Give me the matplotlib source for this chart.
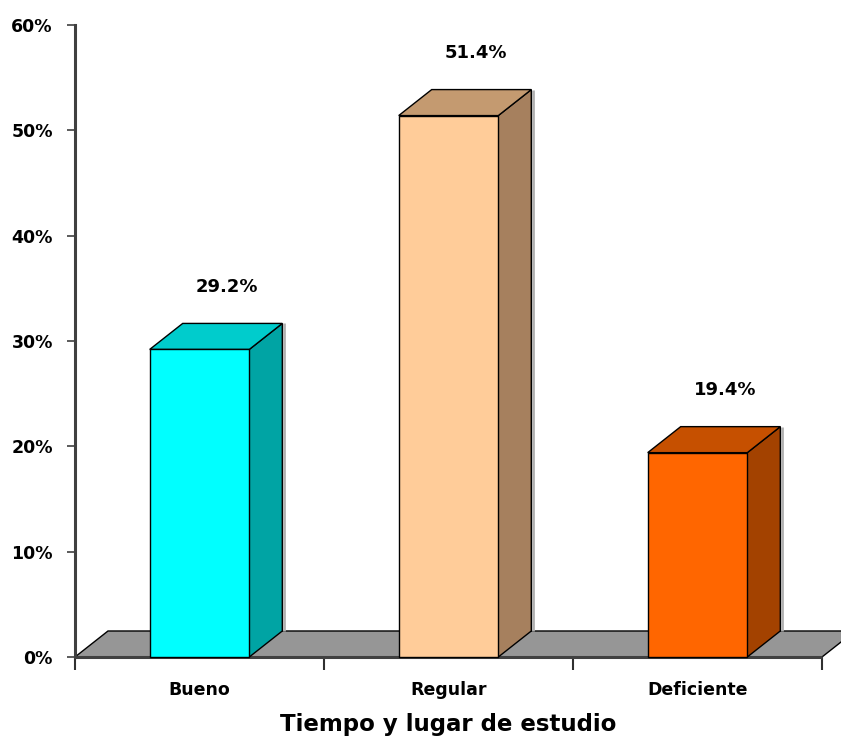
import matplotlib
matplotlib.use("Agg")
import matplotlib.pyplot as plt
from matplotlib.patches import Polygon

categories = ["Bueno", "Regular", "Deficiente"]
values = [29.2, 51.4, 19.4]
value_labels = ["29.2%", "51.4%", "19.4%"]
front_colors = ["#00FFFF", "#FFCC99", "#FF6600"]
top_colors = ["#00CCCC", "#C49A70", "#C65000"]
side_colors = ["#00A4A4", "#A6805E", "#A34200"]
yticks = [0, 10, 20, 30, 40, 50, 60]
ytick_labels = ["0%", "10%", "20%", "30%", "40%", "50%", "60%"]
xlabel = "Tiempo y lugar de estudio"

W, H = 841, 740
fig = plt.figure(figsize=(W / 100, H / 100), dpi=100)
ax = fig.add_axes([75 / W, 1 - 657 / H, 747 / W, 632 / H])
ax.set_xlim(0, 3)
ax.set_ylim(0, 60)

# depth offsets in data units
dx = 33 / 249.0
dy = 26 / 105.3 * 10
bw = 0.40

# floor
floor = Polygon([(0, 0), (3, 0), (3 + dx, dy), (dx, dy)], closed=True,
                facecolor="#969696", edgecolor="black", lw=1.0,
                clip_on=False, zorder=1)
ax.add_patch(floor)
ax.plot([0, 3], [0, 0], color="#404040", lw=2.2, clip_on=False, zorder=2,
        solid_capstyle="butt")

for i, (v, fc, tc, sc) in enumerate(zip(values, front_colors, top_colors, side_colors)):
    c = i + 0.5
    x0, x1 = c - bw / 2, c + bw / 2
    # shadow
    ax.add_patch(Polygon([(x1 + dx + 0.008, dy), (x1 + dx + 0.008, v + dy)],
                         closed=False, edgecolor="#b0b0b0", lw=2, fill=False,
                         clip_on=False, zorder=2))
    side = Polygon([(x1, 0), (x1 + dx, dy), (x1 + dx, v + dy), (x1, v)],
                   closed=True, facecolor=sc, edgecolor="black", lw=1.0,
                   clip_on=False, zorder=3)
    top = Polygon([(x0, v), (x1, v), (x1 + dx, v + dy), (x0 + dx, v + dy)],
                  closed=True, facecolor=tc, edgecolor="black", lw=1.0,
                  clip_on=False, zorder=3)
    front = Polygon([(x0, 0), (x1, 0), (x1, v), (x0, v)], closed=True,
                    facecolor=fc, edgecolor="black", lw=1.0,
                    clip_on=False, zorder=4)
    ax.add_patch(side)
    ax.add_patch(top)
    ax.add_patch(front)
    ax.text(c + 0.11, v + dy + 3.5, value_labels[i], ha="center", va="center",
            fontsize=13, fontweight="bold", color="black")

for s in ["top", "right", "bottom"]:
    ax.spines[s].set_visible(False)
ax.spines["left"].set_color("#404040")
ax.spines["left"].set_linewidth(2.2)

ax.set_yticks(yticks)
ax.set_yticklabels(ytick_labels, fontsize=12.5, fontweight="bold")
ax.tick_params(axis="y", length=6, width=1.2, color="#404040", pad=10)

ax.set_xticks([0, 1, 2, 3])
ax.set_xticklabels([])
ax.set_xticks([0.5, 1.5, 2.5], minor=True)
ax.set_xticklabels(categories, minor=True, fontsize=12.5, fontweight="bold")
ax.tick_params(axis="x", which="major", length=9, width=1.5, color="#303030", direction="out")
ax.tick_params(axis="x", which="minor", length=0, pad=17)

ax.set_xlabel(xlabel, fontsize=16.5, fontweight="bold", labelpad=10)

fig.savefig("out.png", dpi=100)
